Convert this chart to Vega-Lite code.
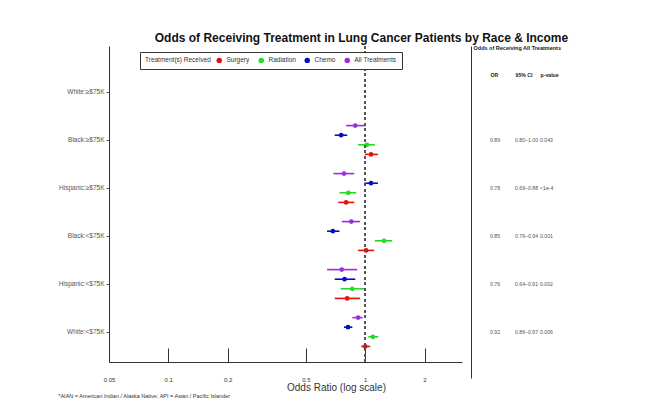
{
  "$schema": "https://vega.github.io/schema/vega-lite/v6.json",
  "background": "white",
  "padding": {"left": 58, "top": 32, "right": 5, "bottom": 5},
  "config": {
    "font": "Liberation Sans",
    "view": {"stroke": null},
    "axis": {"grid": false}
  },
  "title": {
    "text": "Odds of Receiving Treatment in Lung Cancer Patients by Race & Income",
    "fontSize": 12,
    "fontWeight": "bold",
    "color": "#111",
    "anchor": "middle",
    "offset": 0,
    "dx": 52
  },
  "datasets": {
    "odds": [
      {"group": "Black:≥$75K", "treatment": "All Treatments", "or": 0.89, "lo": 0.80, "hi": 1.00},
      {"group": "Black:≥$75K", "treatment": "Chemo", "or": 0.755, "lo": 0.70, "hi": 0.81},
      {"group": "Black:≥$75K", "treatment": "Radiation", "or": 1.02, "lo": 0.92, "hi": 1.12},
      {"group": "Black:≥$75K", "treatment": "Surgery", "or": 1.07, "lo": 0.995, "hi": 1.16},
      {"group": "Hispanic:≥$75K", "treatment": "All Treatments", "or": 0.78, "lo": 0.69, "hi": 0.88},
      {"group": "Hispanic:≥$75K", "treatment": "Chemo", "or": 1.07, "lo": 0.99, "hi": 1.16},
      {"group": "Hispanic:≥$75K", "treatment": "Radiation", "or": 0.82, "lo": 0.74, "hi": 0.90},
      {"group": "Hispanic:≥$75K", "treatment": "Surgery", "or": 0.80, "lo": 0.73, "hi": 0.88},
      {"group": "Black:<$75K", "treatment": "All Treatments", "or": 0.85, "lo": 0.76, "hi": 0.94},
      {"group": "Black:<$75K", "treatment": "Chemo", "or": 0.685, "lo": 0.64, "hi": 0.74},
      {"group": "Black:<$75K", "treatment": "Radiation", "or": 1.245, "lo": 1.12, "hi": 1.37},
      {"group": "Black:<$75K", "treatment": "Surgery", "or": 1.01, "lo": 0.92, "hi": 1.11},
      {"group": "Hispanic:<$75K", "treatment": "All Treatments", "or": 0.76, "lo": 0.64, "hi": 0.91},
      {"group": "Hispanic:<$75K", "treatment": "Chemo", "or": 0.785, "lo": 0.70, "hi": 0.89},
      {"group": "Hispanic:<$75K", "treatment": "Radiation", "or": 0.86, "lo": 0.75, "hi": 0.99},
      {"group": "Hispanic:<$75K", "treatment": "Surgery", "or": 0.81, "lo": 0.70, "hi": 0.94},
      {"group": "White:<$75K", "treatment": "All Treatments", "or": 0.92, "lo": 0.86, "hi": 0.97},
      {"group": "White:<$75K", "treatment": "Chemo", "or": 0.817, "lo": 0.78, "hi": 0.86},
      {"group": "White:<$75K", "treatment": "Radiation", "or": 1.094, "lo": 1.036, "hi": 1.164},
      {"group": "White:<$75K", "treatment": "Surgery", "or": 1.0, "lo": 0.954, "hi": 1.06}
    ],
    "table": [
      {"group": "Black:≥$75K", "OR": "0.89", "95% CI": "0.80–1.00", "p-value": "0.043"},
      {"group": "Hispanic:≥$75K", "OR": "0.78", "95% CI": "0.69–0.88", "p-value": "<1e-4"},
      {"group": "Black:<$75K", "OR": "0.85", "95% CI": "0.76–0.94", "p-value": "0.001"},
      {"group": "Hispanic:<$75K", "OR": "0.76", "95% CI": "0.64–0.91", "p-value": "0.002"},
      {"group": "White:<$75K", "OR": "0.92", "95% CI": "0.86–0.97", "p-value": "0.006"}
    ]
  },
  "hconcat": [
    {
      "width": 353,
      "height": 316,
      "title": {
        "text": "*AIAN = American Indian / Alaska Native; API = Asian / Pacific Islander",
        "orient": "bottom",
        "anchor": "start",
        "fontSize": 5.5,
        "fontWeight": "normal",
        "color": "#333",
        "offset": 2
      },
      "data": {"name": "odds"},
      "layer": [
        {
          "mark": {"type": "rule", "strokeWidth": 1.6},
          "encoding": {
            "x": {"field": "lo", "type": "quantitative", "axis": null},
            "x2": {"field": "hi"},
            "y": {"field": "group", "type": "nominal"},
            "yOffset": {"field": "treatment", "type": "nominal"},
            "color": {"field": "treatment", "type": "nominal"}
          }
        },
        {
          "mark": {"type": "point", "filled": true, "opacity": 1, "size": 22, "shape": "circle"},
          "encoding": {
            "x": {
              "field": "or",
              "type": "quantitative",
              "scale": {"type": "log", "domain": [0.05, 3.1], "nice": false, "zero": false},
              "axis": {
                "title": "Odds Ratio (log scale)",
                "values": [0.05, 0.1, 0.2, 0.5, 1, 2],
                "format": "~g",
                "labelFontSize": 6,
                "labelColor": "#333",
                "labelPadding": 14,
                "ticks": false,
                "domainColor": "#333",
                "labelFlush": false,
                "titleFontSize": 10,
                "titleFontWeight": "normal",
                "titleColor": "#333",
                "titleX": 227,
                "titleY": 25,
                "titleBaseline": "middle"
              }
            },
            "y": {
              "field": "group",
              "type": "nominal",
              "sort": ["White:≥$75K", "Black:≥$75K", "Hispanic:≥$75K", "Black:<$75K", "Hispanic:<$75K", "White:<$75K"],
              "scale": {
                "type": "band",
                "domain": ["White:≥$75K", "Black:≥$75K", "Hispanic:≥$75K", "Black:<$75K", "Hispanic:<$75K", "White:<$75K"],
                "paddingInner": 0,
                "paddingOuter": 0.2917,
                "align": 0.786
              },
              "axis": {
                "title": null,
                "labelFontSize": 6.5,
                "labelColor": "#555",
                "tickSize": 3,
                "tickColor": "#555",
                "domainColor": "#333",
                "labelPadding": 2
              }
            },
            "yOffset": {
              "field": "treatment",
              "type": "nominal",
              "sort": ["All Treatments", "Chemo", "Radiation", "Surgery"],
              "scale": {"type": "point", "padding": 2.5}
            },
            "color": {
              "field": "treatment",
              "type": "nominal",
              "title": "Treatment(s) Received",
              "scale": {
                "domain": ["Surgery", "Radiation", "Chemo", "All Treatments"],
                "range": ["#e01010", "#22dd22", "#0808c8", "#9a2fd8"]
              },
              "legend": {
                "orient": "none",
                "legendX": 31,
                "legendY": 6,
                "direction": "horizontal",
                "titleOrient": "left",
                "titleFontSize": 6.5,
                "titleFontWeight": "normal",
                "titleColor": "#333",
                "labelFontSize": 6.5,
                "labelColor": "#333",
                "symbolType": "circle",
                "symbolSize": 30,
                "symbolStrokeWidth": 0,
                "strokeColor": "#333",
                "fillColor": "white",
                "padding": 5,
                "columnPadding": 8
              }
            }
          }
        },
        {
          "mark": {"type": "rule", "strokeDash": [2.5, 3], "color": "#555", "strokeWidth": 1.3},
          "encoding": {
            "x": {
              "datum": 1,
              "axis": {
                "orient": "top",
                "offset": -316,
                "title": null,
                "labels": false,
                "domain": false,
                "values": [0.05, 0.1, 0.2, 0.5, 1, 2],
                "tickSize": 14,
                "tickColor": "#333",
                "tickWidth": 1
              }
            }
          }
        }
      ],
      "resolve": {"axis": {"x": "independent"}}
    },
    {
      "width": 88,
      "height": 332,
      "data": {"name": "table"},
      "transform": [{"fold": ["OR", "95% CI", "p-value"], "as": ["col", "val"]}],
      "mark": {"type": "text", "align": "left", "baseline": "middle", "fontSize": 5.2, "color": "#555"},
      "encoding": {
        "x": {
          "field": "col",
          "type": "nominal",
          "sort": ["OR", "95% CI", "p-value"],
          "scale": {"type": "point", "padding": 0.76},
          "axis": {
            "orient": "top",
            "title": "Odds of Receiving All Treatments",
            "titleFontSize": 5.5,
            "titleFontWeight": "bold",
            "titleColor": "#222",
            "titleX": 2,
            "titleY": -32,
            "titleAlign": "left",
            "titleBaseline": "middle",
            "domain": false,
            "ticks": false,
            "labelAngle": 0,
            "labelAlign": "left",
            "labelFontSize": 5.2,
            "labelFontWeight": "bold",
            "labelColor": "#222",
            "offset": -33,
            "labelPadding": 2
          }
        },
        "y": {
          "field": "group",
          "type": "nominal",
          "scale": {
            "type": "band",
            "domain": ["White:≥$75K", "Black:≥$75K", "Hispanic:≥$75K", "Black:<$75K", "Hispanic:<$75K", "White:<$75K"],
            "paddingInner": 0,
            "paddingOuter": 0.4583,
            "align": 0.5
          },
          "axis": {"title": null, "labels": false, "ticks": false, "domainColor": "#333"}
        },
        "text": {"field": "val", "type": "nominal"}
      }
    }
  ],
  "resolve": {"scale": {"y": "independent", "x": "independent", "color": "independent"}},
  "spacing": 9
}
